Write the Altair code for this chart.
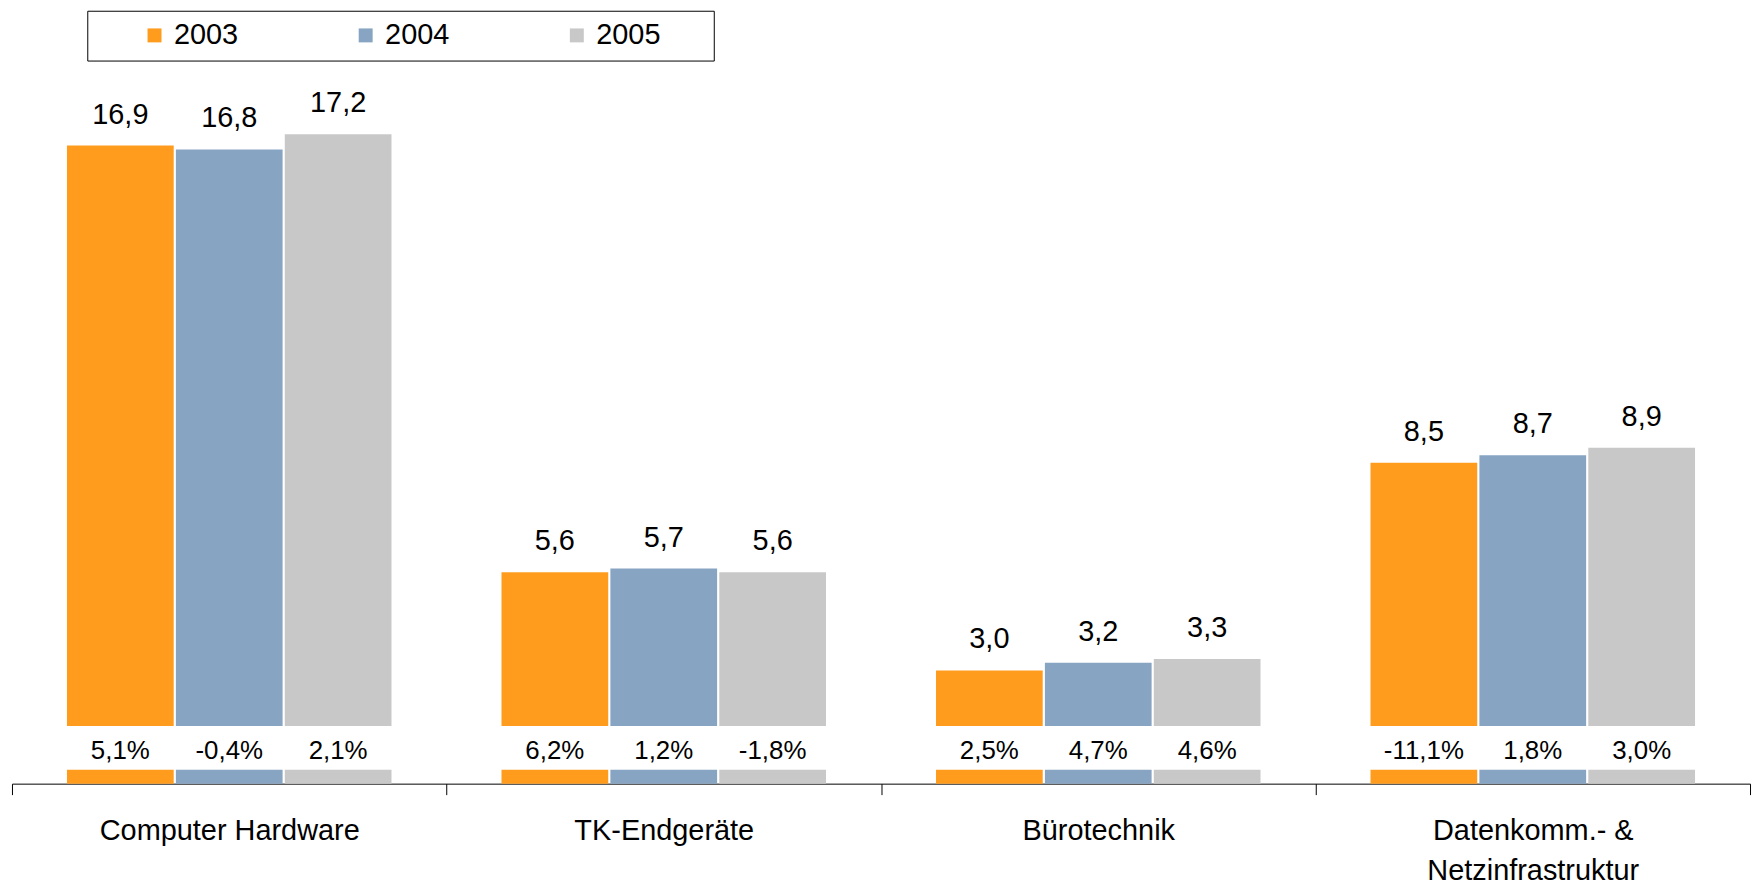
import altair as alt
import pandas as pd

# ---- data ----
categories = ["Computer Hardware", "TK-Endgeräte", "Bürotechnik",
              "Datenkomm.- & Netzinfrastruktur"]
years = ["2003", "2004", "2005"]
volume_2003 = [16.9, 5.6, 3.0, 8.5]
volume_2004 = [16.8, 5.7, 3.2, 8.7]
volume_2005 = [17.2, 5.6, 3.3, 8.9]
growth_2003 = [5.1, 6.2, 2.5, -11.1]
growth_2004 = [-0.4, 1.2, 4.7, 1.8]
growth_2005 = [2.1, -1.8, 4.6, 3.0]
colors = ["#FF9C1E", "#87A4C2", "#C8C8C8"]

volumes = {"2003": volume_2003, "2004": volume_2004, "2005": volume_2005}
growths = {"2003": growth_2003, "2004": growth_2004, "2005": growth_2005}

rows = []
for y in years:
    for i, c in enumerate(categories):
        rows.append({"category": c, "year": y,
                     "value": volumes[y][i], "growth": growths[y][i]})
df = pd.DataFrame(rows)
df["value_label"] = df["value"].map(lambda v: f"{v:.1f}".replace(".", ","))
df["growth_label"] = df["growth"].map(lambda v: f"{v:.1f}%".replace(".", ","))

# layout constants (in value units of the shared y scale)
BAR_BASE = 1.53
STRIP_TOP = 0.37
PCT_Y = 0.87
FONT = "Liberation Sans"

x_enc = alt.X(
    "category:N", sort=categories,
    scale=alt.Scale(paddingInner=0, paddingOuter=0),
    axis=alt.Axis(
        title=None, labelAngle=0, tickBand="extent", tickSize=11,
        tickColor="#000000", domainColor="#000000", labelColor="#000000",
        labelFontSize=29, labelFont=FONT, labelPadding=22, labelLimit=0,
        labelLineHeight=40, grid=False,
        labelExpr="datum.label == 'Datenkomm.- & Netzinfrastruktur' ? "
                  "['Datenkomm.- &', 'Netzinfrastruktur'] : datum.label",
    ),
)
xo_enc = alt.XOffset("year:N", sort=years,
                     scale=alt.Scale(paddingInner=0.02, paddingOuter=0.505))
color_enc = alt.Color(
    "year:N", sort=years,
    scale=alt.Scale(domain=years, range=colors),
    legend=alt.Legend(
        orient="none", legendX=75.6, legendY=-52, direction="horizontal",
        title=" ", titleOrient="right", titlePadding=43, titleFontSize=29,
        symbolType="square", symbolSize=196, symbolStrokeWidth=0,
        symbolOffset=43, labelOffset=5,
        labelFontSize=29, labelFont=FONT, labelColor="#000000",
        columnPadding=70, padding=10, strokeColor="#000000", labelLimit=400,
    ),
)

base = alt.Chart(df).encode(x=x_enc, xOffset=xo_enc)

bars = base.mark_bar().encode(
    y=alt.Y("value:Q", scale=alt.Scale(domain=[0, 19.1], nice=False, zero=True),
            axis=None),
    y2=alt.datum(BAR_BASE),
    color=color_enc,
)
strips = base.mark_bar().encode(
    y=alt.datum(STRIP_TOP),
    y2=alt.datum(0),
    color=color_enc,
)
value_text = base.mark_text(
    baseline="middle", dy=-31, fontSize=29, font=FONT, color="#000000"
).encode(y="value:Q", text="value_label:N")
pct_text = base.mark_text(
    baseline="middle", fontSize=26, font=FONT, color="#000000"
).encode(y=alt.datum(PCT_Y), text="growth_label:N")

chart = (
    alt.layer(bars, strips, value_text, pct_text)
    .properties(width=1745, height=724,
                padding={"left": 3, "top": 0, "right": 4, "bottom": 0})
    .configure(font=FONT)
    .configure_view(strokeWidth=0, stroke="transparent")
    .configure_axis(grid=False)
    .configure_axisY(domain=False, ticks=False, labels=False, grid=False)
)

chart.save("out.html", embed_options={"renderer": "svg", "actions": False})
